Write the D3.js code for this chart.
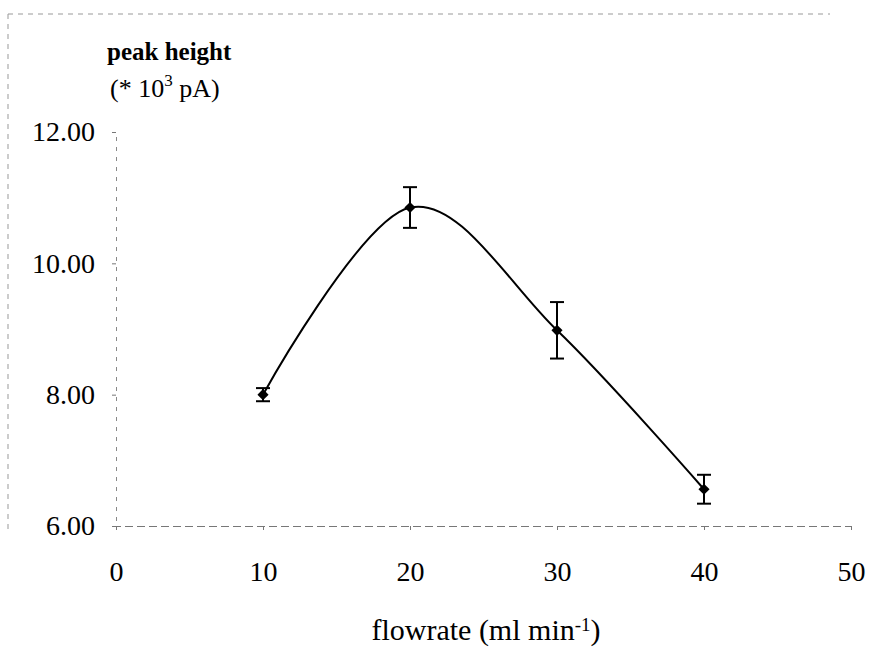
<!DOCTYPE html>
<html>
<head>
<meta charset="utf-8">
<script src="https://cdn.jsdelivr.net/npm/d3@7"></script>
<style>
  html, body { margin: 0; padding: 0; background: #fff; }
  svg { display: block; }
  text { font-family: "Liberation Serif", "Times New Roman", serif; fill: #000; }
</style>
</head>
<body>
<svg id="chart" width="879" height="657"></svg>
<script>
// Peak height versus carrier flow rate (mean ± error)
const flowrate   = [10, 20, 30, 40];
const peakHeight = [8.00, 10.85, 8.98, 6.56];
const peakError  = [0.10, 0.31, 0.43, 0.22];
const xTicks = [0, 10, 20, 30, 40, 50];
const yTicks = [6, 8, 10, 12];

const svg = d3.select("#chart");

const x = d3.scaleLinear().domain([0, 50]).range([116, 851]);
const y = d3.scaleLinear().domain([6, 12]).range([526, 132]);

// Outer frame (faint, broken)
svg.append("line")
  .attr("x1", 8).attr("x2", 830).attr("y1", 14).attr("y2", 14)
  .attr("stroke", "#999").attr("stroke-width", 1).attr("stroke-dasharray", "5,5");
svg.append("line")
  .attr("x1", 8).attr("x2", 8).attr("y1", 14).attr("y2", 530)
  .attr("stroke", "#999").attr("stroke-width", 1).attr("stroke-dasharray", "5,5");

// X axis
const xAxis = svg.append("g")
  .attr("transform", `translate(0,${y(6)})`)
  .call(d3.axisBottom(x).tickValues(xTicks).tickFormat(d3.format("d"))
    .tickSize(4).tickPadding(31));
xAxis.select(".domain").attr("stroke", "#777").attr("stroke-dasharray", "8,4");
xAxis.selectAll(".tick line").attr("stroke", "#777");
xAxis.selectAll(".tick text").style("font-size", "28px")
  .style("font-family", "'Liberation Serif', serif");

// Y axis
const yAxis = svg.append("g")
  .attr("transform", `translate(${x(0)},0)`)
  .call(d3.axisLeft(y).tickValues(yTicks).tickFormat(d3.format(".2f"))
    .tickSize(4).tickPadding(17));
yAxis.select(".domain").attr("stroke", "#888").attr("stroke-dasharray", "4,6");
yAxis.selectAll(".tick line").attr("stroke", "#777");
yAxis.selectAll(".tick text").style("font-size", "28px")
  .style("font-family", "'Liberation Serif', serif");
yAxis.selectAll("path.domain, .tick line").attr("fill", "none");

const pts = flowrate.map((f, i) => ({ f, v: peakHeight[i], e: peakError[i] }));

// Smoothed curve through the means
const line = d3.line()
  .x(d => x(d.f)).y(d => y(d.v))
  .curve(d3.curveCardinal.tension(0));
svg.append("path")
  .datum(pts)
  .attr("d", line)
  .attr("fill", "none")
  .attr("stroke", "#000")
  .attr("stroke-width", 2);

// Error bars
const eb = svg.append("g").attr("stroke", "#000").attr("stroke-width", 2);
pts.forEach(d => {
  const cx = x(d.f), top = y(d.v + d.e), bot = y(d.v - d.e);
  eb.append("line").attr("x1", cx).attr("x2", cx).attr("y1", top).attr("y2", bot);
  eb.append("line").attr("x1", cx - 7).attr("x2", cx + 7).attr("y1", top).attr("y2", top);
  eb.append("line").attr("x1", cx - 7).attr("x2", cx + 7).attr("y1", bot).attr("y2", bot);
});

// Diamond markers
svg.append("g").selectAll("path")
  .data(pts).join("path")
  .attr("d", d3.symbol(d3.symbolSquare, 62))
  .attr("transform", d => `translate(${x(d.f)},${y(d.v)}) rotate(45)`)
  .attr("fill", "#000");

// Y axis title
svg.append("text")
  .attr("x", 107).attr("y", 60)
  .style("font-size", "25px").style("font-weight", "bold")
  .text("peak height");
const yt = svg.append("text")
  .attr("x", 110).attr("y", 97)
  .style("font-size", "26px");
yt.append("tspan").text("(* 10");
yt.append("tspan").attr("dy", -11).style("font-size", "17px").text("3");
yt.append("tspan").attr("dy", 11).text(" pA)");

// X axis title
const xt = svg.append("text")
  .attr("x", 486).attr("y", 640)
  .attr("text-anchor", "middle")
  .style("font-size", "30px");
xt.append("tspan").text("flowrate (ml min");
xt.append("tspan").attr("dy", -9).style("font-size", "19px").text("-1");
xt.append("tspan").attr("dy", 9).text(")");
</script>
</body>
</html>
